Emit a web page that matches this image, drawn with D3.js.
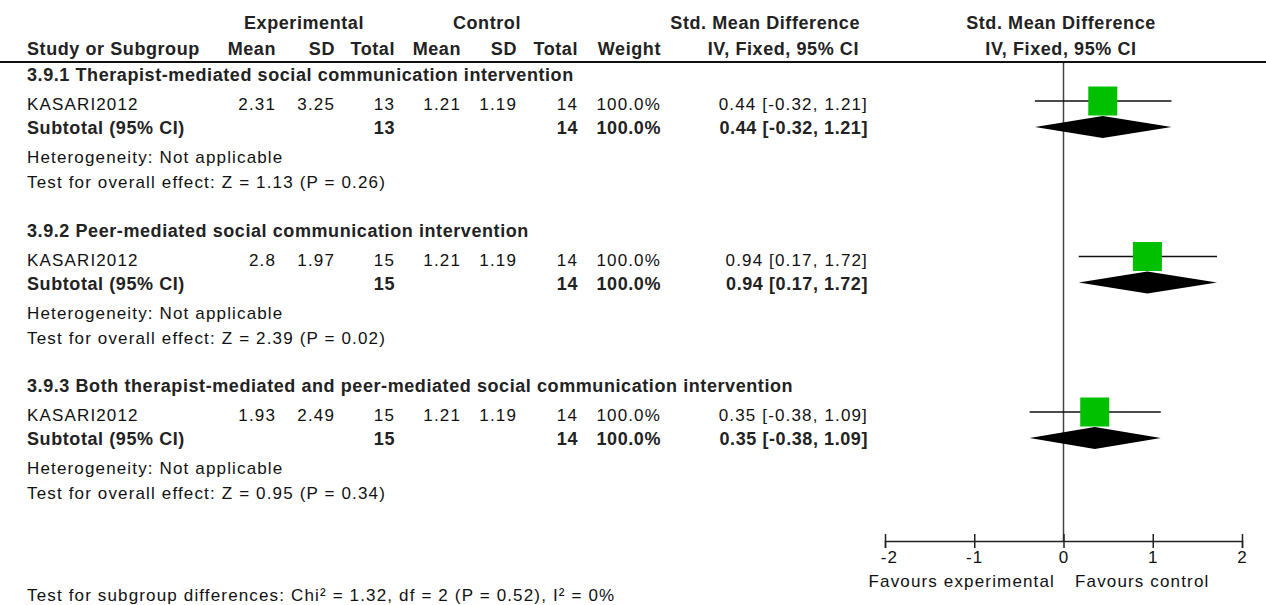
<!DOCTYPE html>
<html><head><meta charset="utf-8">
<script src="https://cdn.jsdelivr.net/npm/d3@7"></script>
<style>
html,body{margin:0;padding:0;background:#fff;}
svg{display:block;}
.r{font-family:"Liberation Sans",Arial,sans-serif;font-size:17px;letter-spacing:1.15px;fill:#111;}
.b{font-family:"Liberation Sans",Arial,sans-serif;font-size:18px;font-weight:bold;letter-spacing:0.58px;fill:#222;}
</style></head>
<body><svg id="c" width="1266" height="605"></svg>
<script>
const groupTitles = ["3.9.1 Therapist-mediated social communication intervention",
  "3.9.2 Peer-mediated social communication intervention",
  "3.9.3 Both therapist-mediated and peer-mediated social communication intervention"];
const studies = ["KASARI2012","KASARI2012","KASARI2012"];
const expMean = ["2.31","2.8","1.93"];
const expSD = ["3.25","1.97","2.49"];
const expN = [13,15,15];
const ctlMean = ["1.21","1.21","1.21"];
const ctlSD = ["1.19","1.19","1.19"];
const ctlN = [14,14,14];
const weights = [100.0,100.0,100.0];
const smd = [0.44,0.94,0.35];
const ciLo = [-0.32,0.17,-0.38];
const ciHi = [1.21,1.72,1.09];
const zVals = ["1.13","2.39","0.95"];
const pVals = ["0.26","0.02","0.34"];
const axisTicks = [-2,-1,0,1,2];
const subgroupTest = "Test for subgroup differences: Chi\u00B2 = 1.32, df = 2 (P = 0.52), I\u00B2 = 0%";

const svg = d3.select("#c");
const x = d3.scaleLinear().domain([-2,2]).range([885,1242]);
const f2 = v => d3.format(".2f")(v).replace("\u2212","-");
const ci = i => `${f2(smd[i])} [${f2(ciLo[i])}, ${f2(ciHi[i])}]`;

function txt(cls, xx, yy, s, anchor){
  return svg.append("text").attr("class",cls).attr("x",xx).attr("y",yy)
    .attr("text-anchor",anchor||"start").text(s);
}

// Header
txt("b",304,29,"Experimental","middle");
txt("b",487,29,"Control","middle");
txt("b",860,29,"Std. Mean Difference","end");
txt("b",1061,29,"Std. Mean Difference","middle");
txt("b",27,55,"Study or Subgroup");
txt("b",276,55,"Mean","end");
txt("b",335,55,"SD","end");
txt("b",395,55,"Total","end");
txt("b",461,55,"Mean","end");
txt("b",517,55,"SD","end");
txt("b",578,55,"Total","end");
txt("b",661,55,"Weight","end");
txt("b",859,55,"IV, Fixed, 95% CI","end");
txt("b",1061,55,"IV, Fixed, 95% CI","middle");
svg.append("line").attr("x1",0).attr("x2",1266).attr("y1",62).attr("y2",62)
  .attr("stroke","#111").attr("stroke-width",2);

// zero line
svg.append("line").attr("x1",x(0)).attr("x2",x(0)).attr("y1",63).attr("y2",541)
  .attr("stroke","#444").attr("stroke-width",1.5);

const step = 155.5;
groupTitles.forEach((g,i)=>{
  const y0 = 81 + i*step;
  txt("b",27,y0,g);
  const ys = y0+29, yt = y0+53;
  txt("r",27,ys,studies[i]);
  txt("r",276,ys,expMean[i],"end");
  txt("r",335,ys,expSD[i],"end");
  txt("r",395,ys,expN[i],"end");
  txt("r",461,ys,ctlMean[i],"end");
  txt("r",517,ys,ctlSD[i],"end");
  txt("r",578,ys,ctlN[i],"end");
  txt("r",661,ys,d3.format(".1f")(weights[i])+"%","end");
  txt("r",868,ys,ci(i),"end");
  txt("b",27,yt,"Subtotal (95% CI)");
  txt("b",395,yt,expN[i],"end");
  txt("b",578,yt,ctlN[i],"end");
  txt("b",661,yt,d3.format(".1f")(weights[i])+"%","end");
  txt("b",868,yt,ci(i),"end");
  txt("r",27,y0+82,"Heterogeneity: Not applicable");
  txt("r",27,y0+107,`Test for overall effect: Z = ${zVals[i]} (P = ${pVals[i]})`);

  // plot marks
  const cy = y0+20, dy = y0+46;
  svg.append("line").attr("x1",x(ciLo[i])).attr("x2",x(ciHi[i])).attr("y1",cy).attr("y2",cy)
    .attr("stroke","#111").attr("stroke-width",1.3);
  const half = 14.5*Math.sqrt(weights[i]/100);
  svg.append("rect").attr("x",x(smd[i])-half).attr("y",cy-half).attr("width",2*half).attr("height",2*half)
    .attr("fill","#00c000");
  svg.append("path").attr("d",`M${x(ciLo[i])},${dy} L${x(smd[i])},${dy-11} L${x(ciHi[i])},${dy} L${x(smd[i])},${dy+11} Z`)
    .attr("fill","#000");
});

// axis
const axis = svg.append("g").attr("transform","translate(0,541)")
  .call(d3.axisBottom(x).tickValues(axisTicks).tickFormat(d3.format("d")).tickSizeOuter(0).tickSize(7));
axis.select(".domain").attr("stroke","#222").attr("stroke-width",1.5);
axis.selectAll(".tick line").attr("y1",-7).attr("y2",7).attr("stroke","#222").attr("stroke-width",1.5);
axis.selectAll(".tick text").attr("class","r").attr("y",10).attr("dy","0.71em").style("font-size","17px").style("fill","#111")
  .text(d=>d<0?"-"+Math.abs(d):d);
axis.selectAll(".tick text").attr("x",d=>d===-2?4:0);
txt("r",1055,587,"Favours experimental","end");
txt("r",1075,587,"Favours control");

txt("r",27,601,subgroupTest);
</script></body></html>
